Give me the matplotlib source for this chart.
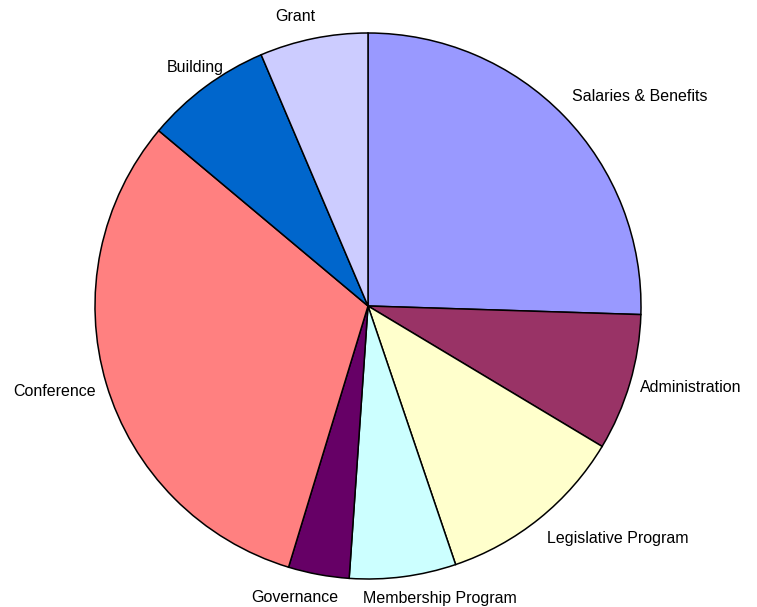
import matplotlib.pyplot as plt

plt.rcParams['font.family'] = ['Liberation Sans', 'DejaVu Sans']

# budget categories, clockwise from the top
categories = ['Salaries & Benefits', 'Administration', 'Legislative Program',
              'Membership Program', 'Governance', 'Conference', 'Building',
              'Grant']
shares = [25.5, 8.1, 11.2, 6.3, 3.6, 31.4, 7.5, 6.4]
colors = ['#9999FF', '#993366', '#FFFFCC', '#CCFFFF', '#660066', '#FF8080',
          '#0066CC', '#CCCCFF']

W, H = 757, 607
fig = plt.figure(figsize=(W / 100, H / 100), dpi=100)

# square axes so the pie sits at (368, 306) px with radius ~273 px
r_px = 273
lim = 1.25
side = 2 * r_px * lim
cx, cy = 368, H - 306
ax = fig.add_axes([(cx - side / 2) / W, (cy - side / 2) / H, side / W, side / H])

wedges, texts = ax.pie(shares, labels=categories, colors=colors,
                       startangle=90, counterclock=False, labeldistance=1.1,
                       wedgeprops={'edgecolor': 'black', 'linewidth': 1.1},
                       textprops={'fontsize': 11.5, 'color': 'black'})

# label anchors (in pie radii) where the original places them
label_pos = {'Salaries & Benefits': (0.747, 0.766, 'left'),
             'Administration': (0.996, -0.297, 'left'),
             'Legislative Program': (0.656, -0.850, 'left'),
             'Membership Program': (-0.018, -1.070, 'left'),
             'Governance': (-0.110, -1.066, 'right'),
             'Conference': (-0.996, -0.315, 'right'),
             'Building': (-0.527, 0.872, 'right'),
             'Grant': (-0.194, 1.059, 'right')}
for t in texts:
    x, y, ha = label_pos[t.get_text()]
    t.set_position((x, y))
    t.set_ha(ha)
    t.set_va('center')

ax.set_xlim(-lim, lim)
ax.set_ylim(-lim, lim)
ax.set_aspect('equal')

fig.savefig('out.png', dpi=100)
